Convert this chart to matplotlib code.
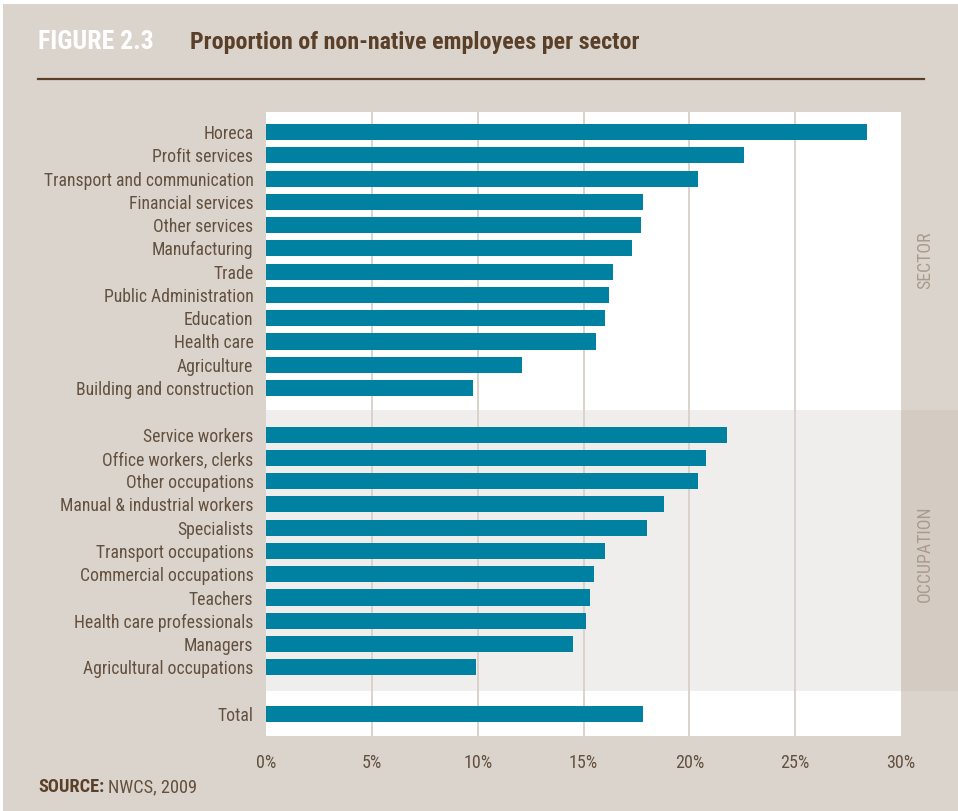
import matplotlib
matplotlib.use("Agg")
import matplotlib.pyplot as plt
from matplotlib.patches import Rectangle
from matplotlib.lines import Line2D

sector_labels = ["Horeca", "Profit services", "Transport and communication",
                 "Financial services", "Other services", "Manufacturing", "Trade",
                 "Public Administration", "Education", "Health care", "Agriculture",
                 "Building and construction"]
sector_values = [28.4, 22.6, 20.4, 17.8, 17.7, 17.3, 16.4, 16.2, 16.0, 15.6, 12.1, 9.8]

occupation_labels = ["Service workers", "Office workers, clerks", "Other occupations",
                     "Manual & industrial workers", "Specialists", "Transport occupations",
                     "Commercial occupations", "Teachers", "Health care professionals",
                     "Managers", "Agricultural occupations"]
occupation_values = [21.8, 20.8, 20.4, 18.8, 18.0, 16.0, 15.5, 15.3, 15.1, 14.5, 9.9]

total_label = "Total"
total_value = 17.8

x_ticks = [0, 5, 10, 15, 20, 25, 30]

BG = "#dbd4cd"
BAND = "#f0eeec"
STRIP = "#d4cbc2"
GRID = "#d8d0c8"
BAR = "#0081a1"
TEXT = "#63503e"
TITLE = "#5a4029"
FONT = ["Roboto Condensed", "DejaVu Sans"]

plt.rcParams["font.family"] = FONT

# one empty slot between groups
labels = sector_labels + [""] + occupation_labels + [""] + [total_label]
values = sector_values + [None] + occupation_values + [None] + [total_value]
ypos = [i for i, v in enumerate(values) if v is not None]
yvals = [v for v in values if v is not None]
ylabs = [l for l, v in zip(labels, values) if v is not None]

fig = plt.figure(figsize=(9.58, 8.11), dpi=100)
fig.patch.set_facecolor("white")
fig.add_artist(Rectangle((3 / 958, 0), 1, 1 - 4 / 811, transform=fig.transFigure,
                         facecolor=BG, edgecolor="none", zorder=-10))

ax = fig.add_axes([266 / 958, 1 - 736 / 811, 635 / 958, 624 / 811])
ax.set_facecolor("white")

occ_start = len(sector_labels) - 0.05
occ_end = len(sector_labels) + 1 + len(occupation_labels)
ax.axhspan(occ_start, occ_end, color=BAND, zorder=0, lw=0)
ax.axhspan(occ_start, occ_end, xmin=1, xmax=1.2, color=STRIP, zorder=0, lw=0,
           clip_on=False)

for t in x_ticks[1:-1]:
    ax.axvline(t, color=GRID, lw=1.3, zorder=1)

ax.barh(ypos, yvals, height=0.69, color=BAR, zorder=2)

ax.set_xlim(0, 30)
ax.set_ylim(len(labels) - 1 + 0.95, -0.86)
ax.set_yticks(ypos)
ax.set_yticklabels(ylabs, fontsize=12.7, color=TEXT)
ax.set_xticks(x_ticks)
ax.set_xticklabels([f"{t}%" for t in x_ticks], fontsize=13, color=TEXT)
ax.tick_params(length=0, axis="y", pad=9)
ax.tick_params(length=0, axis="x", pad=13)
for s in ax.spines.values():
    s.set_visible(False)
for lab in ax.get_yticklabels():
    lab.set_y(lab.get_position()[1])

# group names in the right-hand strip
fig.text(925 / 958, 1 - 260 / 811, "SECTOR", rotation=90, ha="center", va="center",
         fontsize=12.8, color="#a99b8d")
fig.text(925 / 958, 1 - 554 / 811, "OCCUPATION", rotation=90, ha="center", va="center",
         fontsize=12.8, color="#a99b8d")

fig.text(38 / 958, 1 - 42 / 811, "FIGURE 2.3", ha="left", va="center",
         fontsize=18.5, fontweight="bold", color="white")
fig.text(190 / 958, 1 - 42 / 811, "Proportion of non-native employees per sector",
         ha="left", va="center", fontsize=17.3, fontweight="bold", color=TITLE)
fig.add_artist(Line2D([38 / 958, 924 / 958], [1 - 79 / 811, 1 - 79 / 811],
                      transform=fig.transFigure, color=TITLE, lw=1.6))

src = fig.text(38 / 958, 1 - 787 / 811, "SOURCE:", ha="left", va="center",
               fontsize=13.2, fontweight="bold", color=TITLE)
fig.canvas.draw()
bb = src.get_window_extent()
fig.text(bb.x1 / fig.bbox.width + 4 / 958, 1 - 787 / 811, "NWCS, 2009", ha="left",
         va="center", fontsize=13.2, color=TEXT)

fig.savefig("out.png", dpi=100, facecolor=fig.get_facecolor())
